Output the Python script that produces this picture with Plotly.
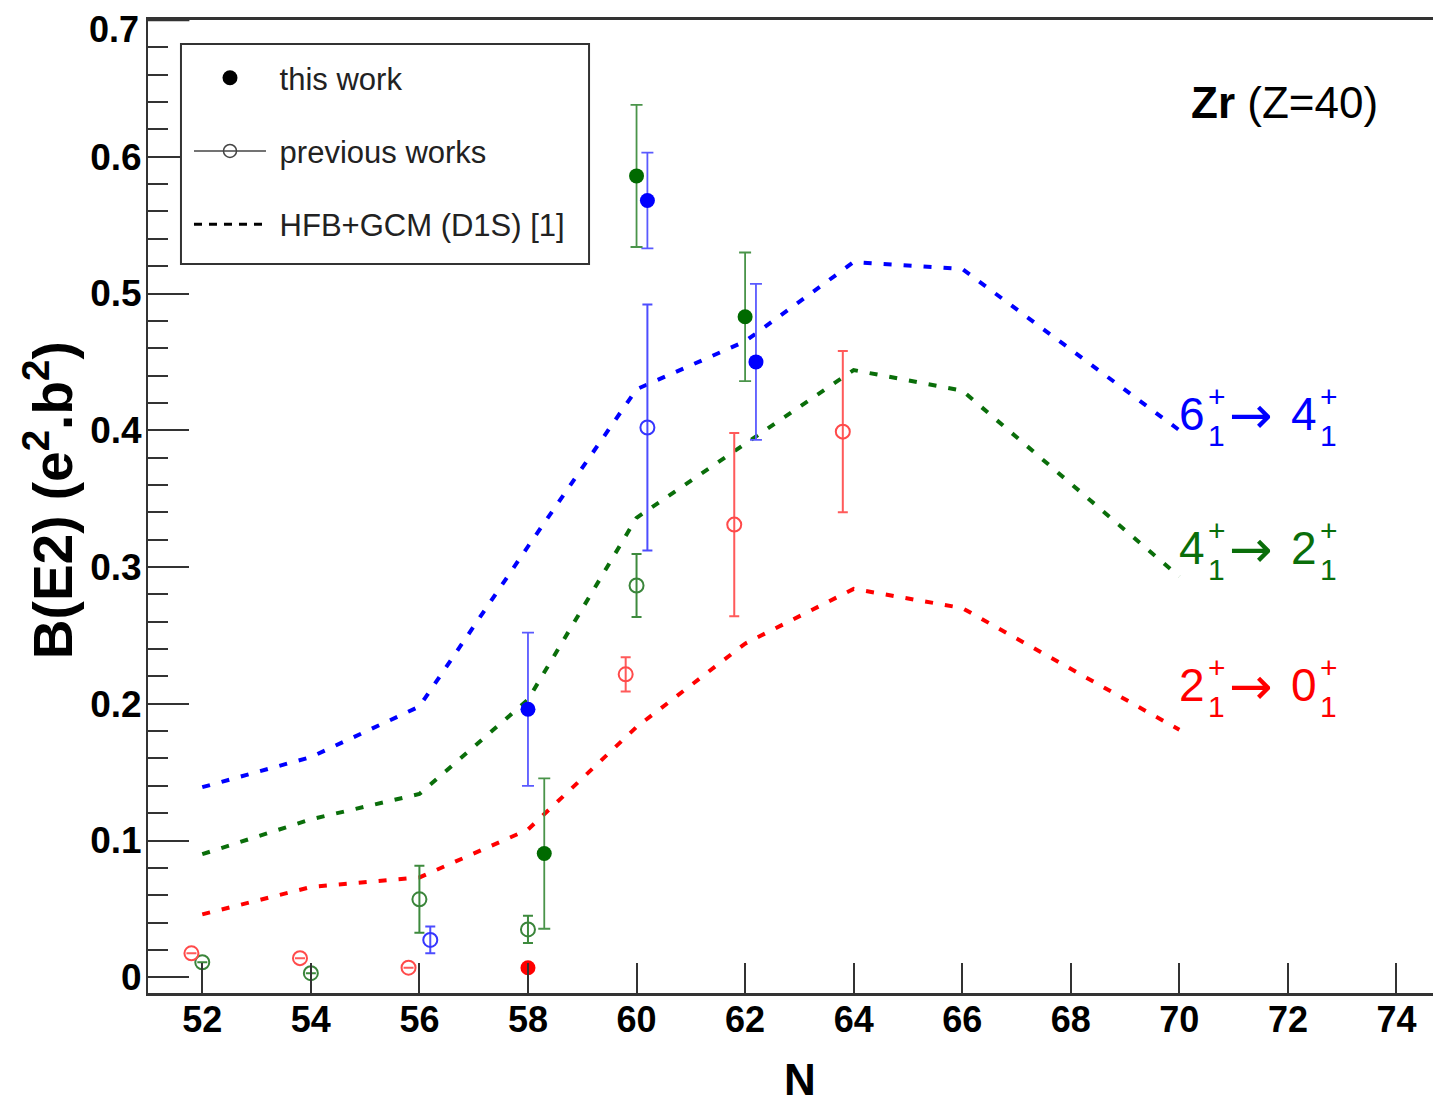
import plotly.graph_objects as go

# ---------------- data ----------------
N_theory = [52, 54, 56, 58, 60, 62, 64, 66, 70]
theory_6_4 = [0.139, 0.161, 0.198, 0.315, 0.430, 0.465, 0.523, 0.518, 0.400]
theory_4_2 = [0.090, 0.1155, 0.134, 0.203, 0.336, 0.390, 0.444, 0.429, 0.293]
theory_2_0 = [0.046, 0.066, 0.073, 0.108, 0.183, 0.244, 0.284, 0.270, 0.181]

# this work (filled)
tw64_N = [58, 60.2, 62.2]
tw64_B = [0.196, 0.568, 0.450]
tw64_err = [0.056, 0.035, 0.057]
tw42_N = [58.3, 60, 62]
tw42_B = [0.0905, 0.586, 0.483]
tw42_err = [0.055, 0.052, 0.047]
tw20_N = [58]
tw20_B = [0.007]
tw20_err = [0.0]

# previous works (open)
pw64_N = [56.2, 60.2]
pw64_B = [0.0273, 0.402]
pw64_err = [0.0098, 0.090]
pw42_N = [52, 54, 56, 58, 60]
pw42_B = [0.011, 0.003, 0.057, 0.035, 0.2865]
pw42_err = [0.0, 0.0, 0.0245, 0.010, 0.023]
pw20_N = [51.8, 53.8, 55.8, 59.8, 61.8, 63.8]
pw20_B = [0.0175, 0.014, 0.007, 0.2215, 0.331, 0.399]
pw20_err = [0.0, 0.0, 0.0, 0.0125, 0.067, 0.059]

x_ticks = [52, 54, 56, 58, 60, 62, 64, 66, 68, 70, 72, 74]
y_ticks = [0, 0.1, 0.2, 0.3, 0.4, 0.5, 0.6]
y_ticktext = ["0", "0.1", "0.2", "0.3", "0.4", "0.5", "0.6"]
y_top_tick = 0.7
y_top_text = "0.7"

BLUE = "#0000ff"
GREEN = "#0a6e0a"
RED = "#ff0000"
FONT = "Liberation Sans"

fig = go.Figure()

# theory dashed lines
for yv, col in [(theory_6_4, BLUE), (theory_4_2, GREEN), (theory_2_0, RED)]:
    fig.add_trace(go.Scatter(x=N_theory, y=yv, mode="lines",
                             line=dict(color=col, width=4, dash="8px,12px"),
                             showlegend=False, hoverinfo="skip"))

# previous works
for xv, yv, ev, col, ecol in [
    (pw64_N, pw64_B, pw64_err, "#3535ff", "#4d4dff"),
    (pw42_N, pw42_B, pw42_err, "#3a853a", "#3d8a3d"),
    (pw20_N, pw20_B, pw20_err, "#ff4a4a", "#ff5a5a"),
]:
    fig.add_trace(go.Scatter(x=xv, y=yv, mode="markers",
                             marker=dict(symbol="circle-open", size=14, color=col,
                                         line=dict(width=2, color=col)),
                             error_y=dict(type="data", array=ev, color=ecol,
                                          thickness=2, width=5),
                             showlegend=False))

# this work
for xv, yv, ev, col, ecol in [
    (tw64_N, tw64_B, tw64_err, BLUE, "#5a5aff"),
    (tw42_N, tw42_B, tw42_err, "#006a00", "#4a944a"),
    (tw20_N, tw20_B, tw20_err, RED, RED),
]:
    fig.add_trace(go.Scatter(x=xv, y=yv, mode="markers",
                             marker=dict(symbol="circle", size=15, color=col),
                             error_y=dict(type="data", array=ev, color=ecol,
                                          thickness=1.8, width=6),
                             showlegend=False))

# legend entries
NB = "\u00a0"
fig.add_trace(go.Scatter(x=[None], y=[None], mode="markers", name=NB + "this work",
                         marker=dict(symbol="circle", size=15, color="black"),
                         legendgroup="a"))
fig.add_trace(go.Scatter(x=[None], y=[None], mode="lines+markers", name=NB + "previous works",
                         marker=dict(symbol="circle-open", size=13, color="#444",
                                     line=dict(width=1.5, color="#444")),
                         line=dict(color="#444", width=1.5),
                         legendgroup="b"))
fig.add_trace(go.Scatter(x=[None], y=[None], mode="lines", name=NB + "HFB+GCM (D1S) [1]",
                         line=dict(color="black", width=3, dash="8px,7px"),
                         legendgroup="c"))

# legend frame
fig.add_shape(type="rect", xref="paper", yref="paper",
              x0=0.0255, x1=0.3411, y0=0.7492, y1=0.9753,
              line=dict(color="#333", width=2), fillcolor="white", layer="above")

# top major tick (0.7) drawn along the frame, plus its label
fig.add_shape(type="line", xref="paper", yref="y", x0=0, x1=0.032,
              y0=y_top_tick, y1=y_top_tick, line=dict(color="#333", width=2.5))
fig.add_annotation(x=0, y=y_top_tick, xref="paper", yref="y", text=y_top_text,
                   showarrow=False, xanchor="right", yanchor="top",
                   xshift=-7, yshift=13,
                   font=dict(family=FONT, size=36, color="black", weight="bold"))

# transition labels
def add_label(level, a, b, col):
    parts = [
        (a, 13, 0, 46, FONT),
        ("+", 38, 17, 30, FONT),
        ("1", 37, -22, 30, FONT),
        ("\u2192", 72, -1, 52, "DejaVu Sans"),
        (b, 125, 0, 46, FONT),
        ("+", 150, 17, 30, FONT),
        ("1", 149, -22, 30, FONT),
    ]
    for txt, dx, dy, fs, fam in parts:
        fig.add_annotation(x=70, y=level, xref="x", yref="y", text=txt,
                           showarrow=False, xanchor="center", yanchor="middle",
                           xshift=dx, yshift=dy,
                           font=dict(family=fam, size=fs, color=col))

add_label(0.412, "6", "4", BLUE)
add_label(0.314, "4", "2", GREEN)
add_label(0.214, "2", "0", RED)

fig.add_annotation(x=0.879, y=0.9147, xref="paper", yref="paper",
                   text="<b>Zr</b> (Z=40)", showarrow=False,
                   xanchor="center", yanchor="middle",
                   font=dict(family=FONT, size=44, color="black"))

fig.add_annotation(x=-0.077, y=0.507, xref="paper", yref="paper",
                   text="B(E2) (e<sup>2</sup>.b<sup>2</sup>)", textangle=-90,
                   showarrow=False, xanchor="center", yanchor="middle",
                   font=dict(family=FONT, size=55, color="black", weight="bold"))

fig.add_annotation(x=0.504, y=-0.089, xref="paper", yref="paper",
                   text="N", showarrow=False, xanchor="center", yanchor="middle",
                   font=dict(family=FONT, size=44, color="black", weight="bold"))

# the page body adds an 8 px offset, so the figure is sized/margined to compensate
fig.update_layout(
    width=1433, height=1099,
    margin=dict(l=140, r=0, t=12, b=114),
    paper_bgcolor="white", plot_bgcolor="white",
    showlegend=True,
    legend=dict(x=0.0317, y=0.9681, xanchor="left", yanchor="top",
                bgcolor="rgba(0,0,0,0)", borderwidth=0,
                font=dict(family=FONT, size=31, color="#222"),
                itemwidth=72, tracegroupgap=30, traceorder="grouped"),
    xaxis=dict(range=[51, 74.82], tickvals=x_ticks, ticks="inside", ticklen=30,
               tickwidth=1.5, tickcolor="#333", showline=True, linecolor="#333",
               linewidth=2.5, mirror=True, showgrid=False, zeroline=False,
               tickfont=dict(family=FONT, size=36, color="black", weight="bold"),
               ticklabelstandoff=-7),
    yaxis=dict(range=[-0.0115, 0.7], tickvals=y_ticks, ticktext=y_ticktext,
               ticks="inside", ticklen=41, tickwidth=1.5, tickcolor="#333",
               showline=True, linecolor="#333", linewidth=2, mirror=False,
               showgrid=False, zeroline=False,
               minor=dict(ticks="inside", ticklen=20, dtick=0.02, tickwidth=1.5,
                          tickcolor="#333", showgrid=False),
               tickfont=dict(family=FONT, size=37, color="black", weight="bold"),
               ticklabelstandoff=-3),
)

fig.write_html("out.html")
